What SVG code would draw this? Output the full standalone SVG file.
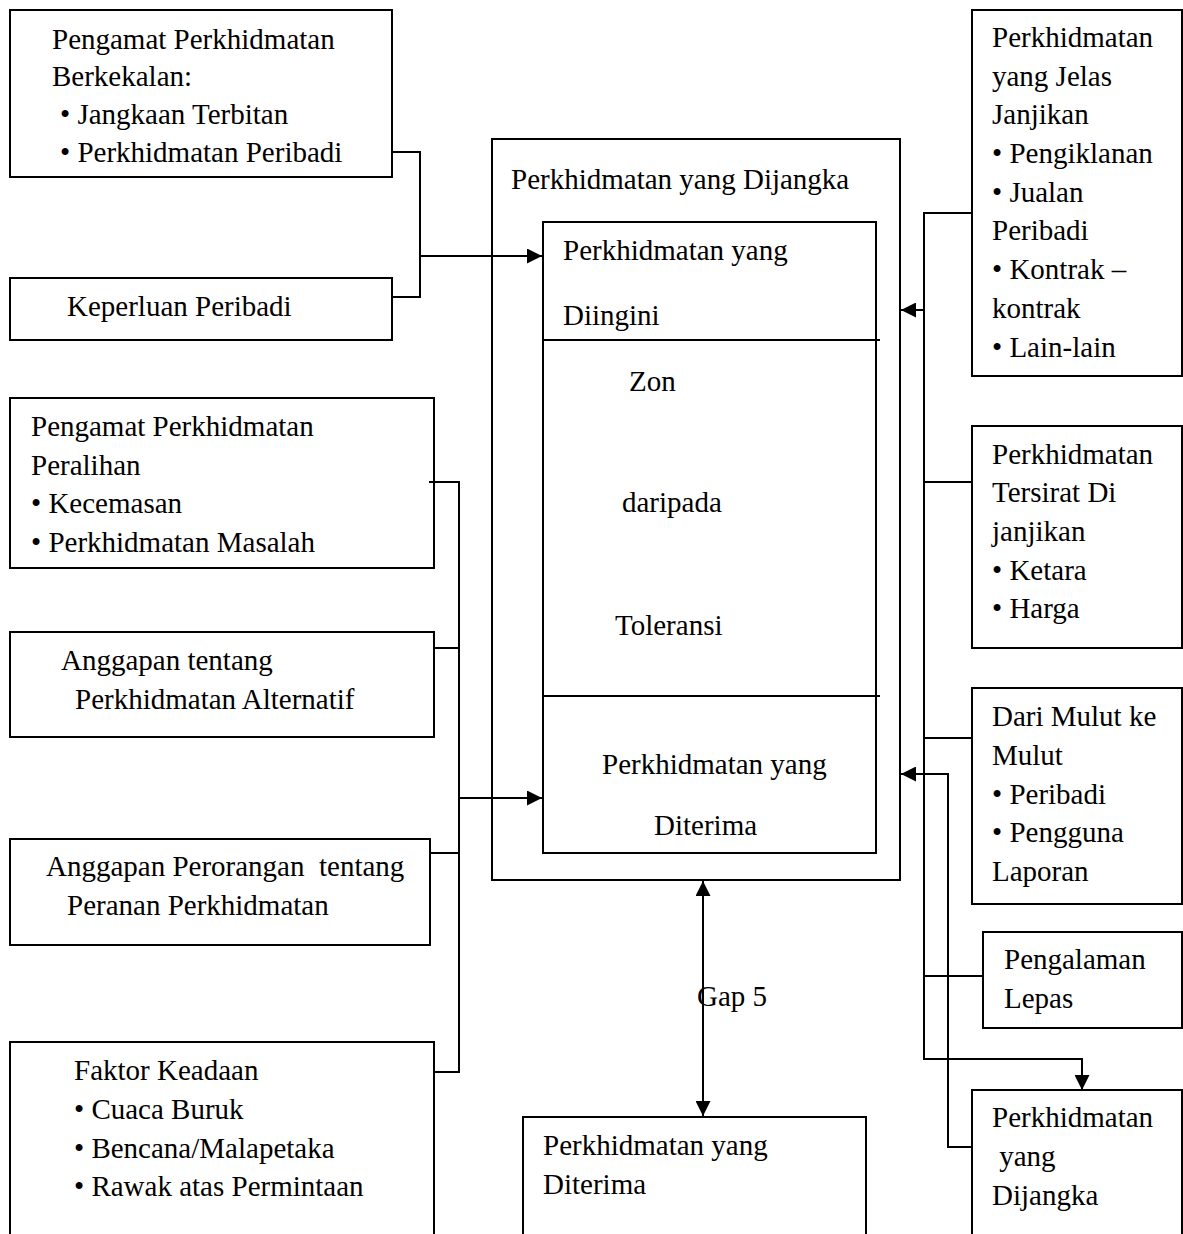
<svg xmlns="http://www.w3.org/2000/svg" width="1183" height="1234" viewBox="0 0 1183 1234">
  <style>
    .box { fill: #ffffff; stroke: #000000; stroke-width: 2; }
    .line { fill: none; stroke: #000000; stroke-width: 2; }
    .arrow { fill: none; stroke: #000000; stroke-width: 2; marker-end: url(#head); }
    .both { fill: none; stroke: #000000; stroke-width: 2; marker-start: url(#head); marker-end: url(#head); }
    text { font-family: "Liberation Serif", "Times New Roman", serif; font-size: 29px; fill: #000000; white-space: pre; }
  </style>
  <defs>
    <marker id="head" viewBox="0 0 15 15" refX="15" refY="7.5" markerWidth="15" markerHeight="15" markerUnits="userSpaceOnUse" orient="auto-start-reverse">
      <path d="M0,0 L15,7.5 L0,15 Z" fill="#000000"/>
    </marker>
  </defs>
  <rect width="1183" height="1234" fill="#ffffff"/>

  <!-- central expectation frame -->
  <g id="dijangka-frame">
    <rect class="box" x="492" y="139" width="408" height="741"/>
    <text x="511" y="189">Perkhidmatan yang Dijangka</text>
  </g>

  <g id="zon-toleransi">
    <rect class="box" x="543" y="222" width="333" height="631"/>
    <line class="line" x1="543" y1="340" x2="880" y2="340"/>
    <line class="line" x1="543" y1="696" x2="880" y2="696"/>
    <text x="563" y="260">Perkhidmatan yang</text>
    <text x="563" y="325">Diingini</text>
    <text x="629" y="391">Zon</text>
    <text x="622" y="512">daripada</text>
    <text x="615" y="635">Toleransi</text>
    <text x="602" y="774">Perkhidmatan yang</text>
    <text x="654" y="835">Diterima</text>
  </g>

  <!-- left column -->
  <g id="pengamat-berkekalan">
    <rect class="box" x="10" y="10" width="382" height="167"/>
    <text x="52" y="49">Pengamat Perkhidmatan</text>
    <text x="52" y="86">Berkekalan:</text>
    <text x="60" y="124">• Jangkaan Terbitan</text>
    <text x="60" y="162">• Perkhidmatan Peribadi</text>
  </g>

  <g id="keperluan-peribadi">
    <rect class="box" x="10" y="278" width="382" height="62"/>
    <text x="67" y="316">Keperluan Peribadi</text>
  </g>

  <g id="pengamat-peralihan">
    <rect class="box" x="10" y="398" width="424" height="170"/>
    <text x="31" y="436">Pengamat Perkhidmatan</text>
    <text x="31" y="475">Peralihan</text>
    <text x="31" y="513">• Kecemasan</text>
    <text x="31" y="552">• Perkhidmatan Masalah</text>
  </g>

  <g id="anggapan-alternatif">
    <rect class="box" x="10" y="632" width="424" height="105"/>
    <text x="61" y="670">Anggapan tentang</text>
    <text x="75" y="709">Perkhidmatan Alternatif</text>
  </g>

  <g id="anggapan-perorangan">
    <rect class="box" x="10" y="839" width="420" height="106"/>
    <text x="46" y="876">Anggapan Perorangan  tentang</text>
    <text x="67" y="915">Peranan Perkhidmatan</text>
  </g>

  <g id="faktor-keadaan">
    <rect class="box" x="10" y="1042" width="424" height="200"/>
    <text x="74" y="1080">Faktor Keadaan</text>
    <text x="74" y="1119">• Cuaca Buruk</text>
    <text x="74" y="1158">• Bencana/Malapetaka</text>
    <text x="74" y="1196">• Rawak atas Permintaan</text>
  </g>

  <!-- bottom centre -->
  <g id="perkhidmatan-diterima">
    <rect class="box" x="523" y="1117" width="343" height="125"/>
    <text x="543" y="1155">Perkhidmatan yang</text>
    <text x="543" y="1194">Diterima</text>
  </g>

  <!-- right column -->
  <g id="janji-jelas">
    <rect class="box" x="972" y="10" width="210" height="366"/>
    <text x="992" y="47">Perkhidmatan</text>
    <text x="992" y="86">yang Jelas</text>
    <text x="992" y="124">Janjikan</text>
    <text x="992" y="163">• Pengiklanan</text>
    <text x="992" y="202">• Jualan</text>
    <text x="992" y="240">Peribadi</text>
    <text x="992" y="279">• Kontrak –</text>
    <text x="992" y="318">kontrak</text>
    <text x="992" y="357">• Lain-lain</text>
  </g>

  <g id="janji-tersirat">
    <rect class="box" x="972" y="426" width="210" height="222"/>
    <text x="992" y="464">Perkhidmatan</text>
    <text x="992" y="502">Tersirat Di</text>
    <text x="992" y="541">janjikan</text>
    <text x="992" y="580">• Ketara</text>
    <text x="992" y="618">• Harga</text>
  </g>

  <g id="mulut-ke-mulut">
    <rect class="box" x="972" y="688" width="210" height="216"/>
    <text x="992" y="726">Dari Mulut ke</text>
    <text x="992" y="765">Mulut</text>
    <text x="992" y="804">• Peribadi</text>
    <text x="992" y="842">• Pengguna</text>
    <text x="992" y="881">Laporan</text>
  </g>

  <g id="pengalaman-lepas">
    <rect class="box" x="983" y="932" width="199" height="96"/>
    <text x="1004" y="969">Pengalaman</text>
    <text x="1004" y="1008">Lepas</text>
  </g>

  <g id="perkhidmatan-dijangka">
    <rect class="box" x="972" y="1090" width="210" height="152"/>
    <text x="992" y="1127">Perkhidmatan</text>
    <text x="992" y="1166"> yang</text>
    <text x="992" y="1205">Dijangka</text>
  </g>

  <!-- connectors -->
  <g id="connectors">
    <!-- left: lasting intensifiers + personal needs to desired service -->
    <path class="line" d="M393,152 H420 V297 H393"/>
    <path class="arrow" d="M420,256 H542"/>

    <!-- left: transitory factors to adequate service -->
    <path class="line" d="M429,482 H459 V1072 H434"/>
    <path class="line" d="M434,648 H459"/>
    <path class="line" d="M430,853 H459"/>
    <path class="arrow" d="M459,798 H542"/>

    <!-- right: promises, word of mouth, past experience -->
    <path class="line" d="M972,213 H924 V1059 H1082"/>
    <path class="arrow" d="M1082,1058 V1090"/>
    <path class="arrow" d="M924,310 H901"/>
    <path class="line" d="M924,482 H972"/>
    <path class="line" d="M924,738 H972"/>
    <path class="line" d="M924,976 H983"/>
    <path class="line" d="M972,1147 H948 V774"/>
    <path class="arrow" d="M949,774 H901"/>

    <!-- gap 5 -->
    <path class="both" d="M703,881 V1116"/>
    <text x="697" y="1006">Gap 5</text>
  </g>
</svg>
